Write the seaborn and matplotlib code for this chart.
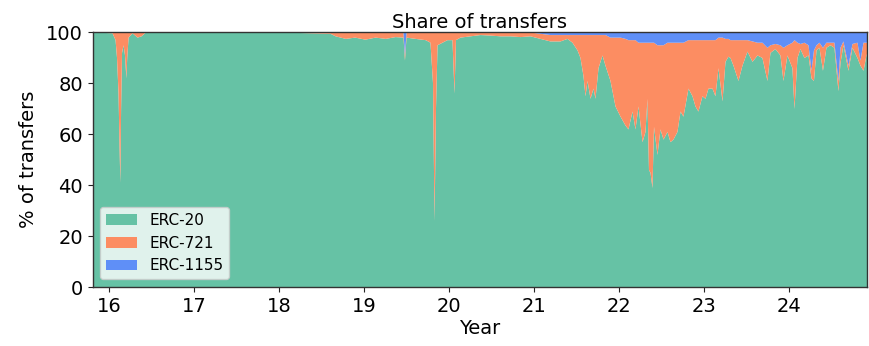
import matplotlib
matplotlib.use("Agg")
import matplotlib.pyplot as plt
from matplotlib.ticker import FuncFormatter
import seaborn as sns
import pandas as pd

# Time axis in fractional years, with the ERC-721 and ERC-1155 shares (%).
years = [
    2015.812, 2016.035, 2016.071, 2016.088, 2016.106, 2016.118, 2016.127, 2016.136,
    2016.147, 2016.165, 2016.182, 2016.198, 2016.208, 2016.224, 2016.270, 2016.330,
    2016.376, 2016.420, 2016.600, 2017.500, 2018.247, 2018.600, 2018.660, 2018.780,
    2018.890, 2019.010, 2019.130, 2019.250, 2019.365, 2019.459, 2019.476, 2019.494,
    2019.600, 2019.720, 2019.776, 2019.806, 2019.824, 2019.841, 2019.859, 2019.918,
    2019.976, 2020.035, 2020.059, 2020.076, 2020.129, 2020.247, 2020.365, 2020.482,
    2020.600, 2020.718, 2020.835, 2020.953, 2021.070, 2021.188, 2021.306, 2021.388,
    2021.447, 2021.506, 2021.541, 2021.576, 2021.600, 2021.624, 2021.659, 2021.694,
    2021.718, 2021.753, 2021.800, 2021.835, 2021.894, 2021.953, 2022.012, 2022.071,
    2022.106, 2022.153, 2022.188, 2022.224, 2022.271, 2022.306, 2022.329, 2022.347,
    2022.365, 2022.388, 2022.406, 2022.447, 2022.482, 2022.518, 2022.565, 2022.600,
    2022.635, 2022.682, 2022.718, 2022.753, 2022.812, 2022.859, 2022.894, 2022.929,
    2022.976, 2023.012, 2023.047, 2023.094, 2023.129, 2023.165, 2023.212, 2023.247,
    2023.282, 2023.306, 2023.341, 2023.400, 2023.447, 2023.506, 2023.565, 2023.624,
    2023.682, 2023.741, 2023.776, 2023.835, 2023.894, 2023.929, 2023.976, 2024.035,
    2024.059, 2024.094, 2024.129, 2024.176, 2024.224, 2024.259, 2024.288, 2024.318,
    2024.353, 2024.394, 2024.435, 2024.482, 2024.529, 2024.576, 2024.600, 2024.635,
    2024.694, 2024.741, 2024.800, 2024.835, 2024.871, 2024.906, 2024.930,
]

erc721 = [
    0.0, 0.3, 3.0, 10.0, 24.0, 45.0, 59.0, 30.0,
    8.0, 5.0, 9.0, 18.0, 10.0, 2.0, 0.3, 2.0,
    1.5, 0.2, 0.0, 0.0, 0.2, 0.5, 1.5, 2.5,
    2.0, 2.8, 2.0, 2.5, 1.8, 2.0, 2.0, 2.0,
    2.5, 3.0, 4.0, 20.0, 74.0, 30.0, 5.0, 4.0,
    3.0, 3.0, 24.0, 3.0, 2.0, 1.5, 1.0, 1.2,
    1.5, 1.5, 1.8, 1.5, 2.0, 2.5, 2.5, 1.5,
    3.0, 6.0, 9.0, 16.0, 24.0, 18.0, 25.0, 21.0,
    25.0, 13.0, 8.0, 12.0, 17.0, 27.0, 31.0, 34.0,
    35.0, 28.0, 35.0, 25.0, 39.0, 35.0, 22.0, 50.0,
    51.0, 57.0, 33.0, 43.0, 33.0, 37.0, 35.0, 39.0,
    38.0, 35.0, 27.0, 29.0, 19.0, 22.0, 26.0, 28.0,
    22.0, 23.0, 19.0, 19.0, 22.0, 12.0, 25.0, 9.0,
    7.0, 7.0, 10.0, 16.0, 10.0, 4.5, 8.0, 5.0,
    6.0, 13.0, 3.0, 2.0, 4.0, 13.0, 4.0, 10.0,
    27.0, 6.0, 2.0, 6.0, 4.0, 3.0, 12.0, 2.0,
    2.0, 9.0, 2.0, 1.0, 2.0, 4.0, 6.0, 1.5,
    2.0, 1.5, 6.0, 2.0, 11.0, 5.0, 3.0,
]

erc1155 = [
    0.0, 0.0, 0.0, 0.0, 0.0, 0.0, 0.0, 0.0,
    0.0, 0.0, 0.0, 0.0, 0.0, 0.0, 0.0, 0.0,
    0.0, 0.0, 0.0, 0.0, 0.0, 0.0, 0.0, 0.0,
    0.0, 0.0, 0.0, 0.0, 0.0, 0.0, 9.0, 0.0,
    0.0, 0.0, 0.0, 0.0, 0.0, 0.0, 0.0, 0.0,
    0.0, 0.0, 0.0, 0.0, 0.0, 0.0, 0.0, 0.0,
    0.0, 0.0, 0.0, 0.0, 0.5, 1.0, 1.0, 1.0,
    1.0, 1.0, 1.0, 1.0, 1.0, 1.0, 1.0, 1.0,
    1.0, 1.0, 1.0, 1.0, 2.0, 2.0, 2.0, 2.5,
    3.0, 3.0, 3.0, 4.0, 4.0, 4.0, 4.0, 4.0,
    4.0, 4.0, 4.0, 5.0, 5.0, 5.0, 4.0, 4.0,
    4.0, 4.0, 4.0, 4.0, 3.0, 3.0, 3.0, 3.0,
    3.0, 3.0, 3.0, 3.0, 3.0, 2.0, 2.0, 2.5,
    2.5, 3.0, 3.0, 3.0, 3.0, 3.0, 3.5, 4.0,
    4.0, 6.0, 5.0, 4.5, 5.0, 6.0, 5.0, 4.0,
    3.0, 4.0, 4.5, 4.0, 5.0, 15.0, 7.0, 5.0,
    4.0, 6.0, 4.0, 4.0, 4.0, 19.0, 6.0, 3.5,
    13.0, 4.5, 4.0, 11.0, 4.0, 4.0, 4.0,
]

labels = ["ERC-20", "ERC-721", "ERC-1155"]
colors = ["#66c2a5", "#fc8d62", "#5f8ff7"]
year_ticks = [2016, 2017, 2018, 2019, 2020, 2021, 2022, 2023, 2024]

df = pd.DataFrame({"year": years, "ERC-721": erc721, "ERC-1155": erc1155})
# ERC-20 holds whatever share the two token standards leave over
df["ERC-20"] = 100.0 - df["ERC-721"] - df["ERC-1155"]

sns.set_style("ticks")
plt.rcParams["font.family"] = ["DejaVu Sans"]
plt.rcParams["text.color"] = "black"
plt.rcParams["axes.labelcolor"] = "black"

fig = plt.figure(figsize=(8.69, 3.46), dpi=100)
ax = fig.add_axes([0.1067, 0.1705, 0.891, 0.737])

ax.stackplot(df["year"], df["ERC-20"], df["ERC-721"], df["ERC-1155"],
             labels=labels, colors=colors, linewidth=0)

ax.set_xlim(2015.808, 2024.918)
ax.set_ylim(0, 100)
ax.set_xticks(year_ticks)
ax.xaxis.set_major_formatter(FuncFormatter(lambda v, _: f"{int(round(v)) % 100}"))
ax.set_yticks([0, 20, 40, 60, 80, 100])
ax.tick_params(labelsize=14, length=3.5, width=0.8, colors="#222222", labelcolor="black")
for s in ax.spines.values():
    s.set_color("#333333")
    s.set_linewidth(1.0)

ax.set_title("Share of transfers", fontsize=14, pad=3, color="black")
ax.set_xlabel("Year", fontsize=14, labelpad=2)
ax.set_ylabel("% of transfers", fontsize=14, labelpad=6)

leg = ax.legend(loc="lower left", fontsize=11, framealpha=0.8)
for t in leg.get_texts():
    t.set_color("black")

fig.savefig("out.png", dpi=100)
